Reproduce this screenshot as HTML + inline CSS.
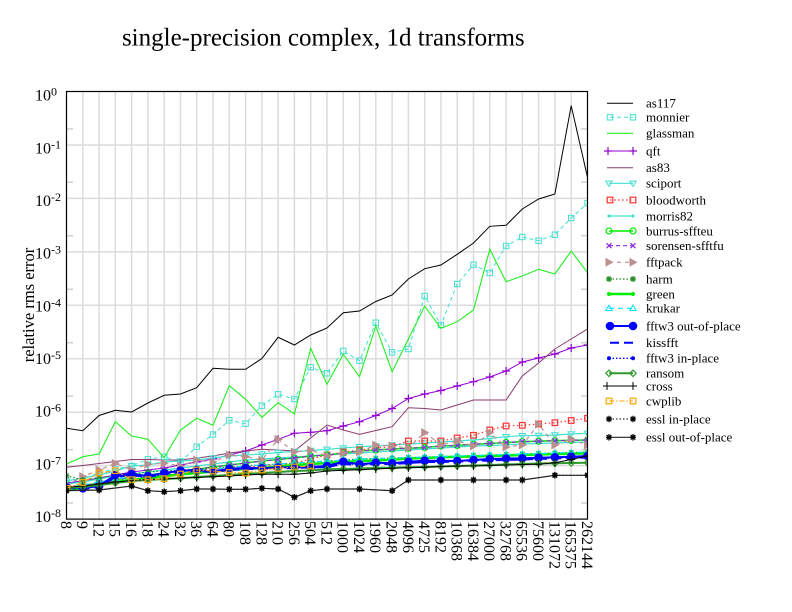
<!DOCTYPE html>
<html>
<head>
<meta charset="utf-8">
<style>
html,body{margin:0;padding:0;background:#fff;}
svg{display:block;}
text{font-family:"Liberation Serif",serif;fill:#000;}
</style>
</head>
<body>
<svg width="792" height="612" viewBox="0 0 792 612" xmlns="http://www.w3.org/2000/svg">
<defs>
<clipPath id="plot"><rect x="66.5" y="91.5" width="521" height="427.6"/></clipPath>
<marker id="mSqT" markerUnits="userSpaceOnUse" overflow="visible" refX="0" refY="0" markerWidth="1" markerHeight="1"><rect x="-2.7" y="-2.7" width="5.4" height="5.4" fill="none" stroke="#40e0d0" stroke-width="1"/></marker>
<marker id="mPlusV" markerUnits="userSpaceOnUse" overflow="visible" refX="0" refY="0" markerWidth="1" markerHeight="1"><path d="M-4,0H4M0,-4V4" stroke="#9400d3" stroke-width="1.2"/></marker>
<marker id="mTriDT" markerUnits="userSpaceOnUse" overflow="visible" refX="0" refY="0" markerWidth="1" markerHeight="1"><path d="M-3.2,-2.2H3.2L0,3.2Z" fill="none" stroke="#40e0d0" stroke-width="1"/></marker>
<marker id="mSqR" markerUnits="userSpaceOnUse" overflow="visible" refX="0" refY="0" markerWidth="1" markerHeight="1"><rect x="-2.8" y="-2.8" width="5.6" height="5.6" fill="none" stroke="#ff3030" stroke-width="1.2"/></marker>
<marker id="mDotT" markerUnits="userSpaceOnUse" overflow="visible" refX="0" refY="0" markerWidth="1" markerHeight="1"><circle r="1.6" fill="#40e0d0"/></marker>
<marker id="mCircG" markerUnits="userSpaceOnUse" overflow="visible" refX="0" refY="0" markerWidth="1" markerHeight="1"><circle r="3" fill="none" stroke="#00ee00" stroke-width="1.2"/></marker>
<marker id="mXV" markerUnits="userSpaceOnUse" overflow="visible" refX="0" refY="0" markerWidth="1" markerHeight="1"><path d="M-2.5,-2.5L2.5,2.5M-2.5,2.5L2.5,-2.5" stroke="#8a2be2" stroke-width="1.2"/></marker>
<marker id="mTriRB" markerUnits="userSpaceOnUse" overflow="visible" refX="0" refY="0" markerWidth="1" markerHeight="1"><path d="M-3.5,-4.5L4.5,0L-3.5,4.5Z" fill="#bc8f8f"/></marker>
<marker id="mStarFG" markerUnits="userSpaceOnUse" overflow="visible" refX="0" refY="0" markerWidth="1" markerHeight="1"><path d="M-3,0H3M0,-3V3M-2.2,-2.2L2.2,2.2M-2.2,2.2L2.2,-2.2" stroke="#228b22" stroke-width="1.2"/></marker>
<marker id="mDotG" markerUnits="userSpaceOnUse" overflow="visible" refX="0" refY="0" markerWidth="1" markerHeight="1"><circle r="2" fill="#00ee00"/></marker>
<marker id="mTriUC" markerUnits="userSpaceOnUse" overflow="visible" refX="0" refY="0" markerWidth="1" markerHeight="1"><path d="M-3.2,2.2H3.2L0,-3.2Z" fill="none" stroke="#00e5ff" stroke-width="1"/></marker>
<marker id="mCircB" markerUnits="userSpaceOnUse" overflow="visible" refX="0" refY="0" markerWidth="1" markerHeight="1"><circle r="4.3" fill="#0000ff"/></marker>
<marker id="mDotB" markerUnits="userSpaceOnUse" overflow="visible" refX="0" refY="0" markerWidth="1" markerHeight="1"><circle r="2" fill="#0000ff"/></marker>
<marker id="mDiaG" markerUnits="userSpaceOnUse" overflow="visible" refX="0" refY="0" markerWidth="1" markerHeight="1"><path d="M0,-3.2L3.2,0L0,3.2L-3.2,0Z" fill="none" stroke="#2e9a2e" stroke-width="1.2"/></marker>
<marker id="mPlusK" markerUnits="userSpaceOnUse" overflow="visible" refX="0" refY="0" markerWidth="1" markerHeight="1"><path d="M-4,0H4M0,-4V4" stroke="#000" stroke-width="1"/></marker>
<marker id="mSqO" markerUnits="userSpaceOnUse" overflow="visible" refX="0" refY="0" markerWidth="1" markerHeight="1"><rect x="-2.8" y="-2.8" width="5.6" height="5.6" fill="none" stroke="#ffa500" stroke-width="1.2"/></marker>
<marker id="mStarK" markerUnits="userSpaceOnUse" overflow="visible" refX="0" refY="0" markerWidth="1" markerHeight="1"><path d="M-3,0H3M0,-3.2V3.2M-2.3,-2.3L2.3,2.3M-2.3,2.3L2.3,-2.3" stroke="#000" stroke-width="1.3"/></marker>
</defs>

<rect width="792" height="612" fill="#fff"/>

<!-- grid -->
<g stroke="#dcdcdc" stroke-width="1.5">
<path d="M82.8,91.5V519.1M99.1,91.5V519.1M115.3,91.5V519.1M131.6,91.5V519.1M147.9,91.5V519.1M164.2,91.5V519.1M180.5,91.5V519.1M196.7,91.5V519.1M213,91.5V519.1M229.3,91.5V519.1M245.6,91.5V519.1M261.9,91.5V519.1M278.1,91.5V519.1M294.4,91.5V519.1M310.7,91.5V519.1M327,91.5V519.1M343.3,91.5V519.1M359.5,91.5V519.1M375.8,91.5V519.1M392.1,91.5V519.1M408.4,91.5V519.1M424.7,91.5V519.1M440.9,91.5V519.1M457.2,91.5V519.1M473.5,91.5V519.1M489.8,91.5V519.1M506.1,91.5V519.1M522.3,91.5V519.1M538.6,91.5V519.1M554.9,91.5V519.1M571.2,91.5V519.1"/>
<path d="M66.5,144.95H587.5M66.5,198.4H587.5M66.5,251.85H587.5M66.5,305.3H587.5M66.5,358.75H587.5M66.5,412.2H587.5M66.5,465.65H587.5"/>
</g>
<g stroke="#d0d0d0" stroke-width="1.5">
<path d="M66.5,128.9H73M66.5,182.3H73M66.5,235.8H73M66.5,289.2H73M66.5,342.7H73M66.5,396.1H73M66.5,449.6H73M66.5,503H73"/>
<path d="M581,128.9H587.5M581,182.3H587.5M581,235.8H587.5M581,289.2H587.5M581,342.7H587.5M581,396.1H587.5M581,449.6H587.5M581,503H587.5"/>
</g>

<!-- series -->
<g clip-path="url(#plot)" fill="none">
<polyline stroke="#000" stroke-width="1" points="66.5,428.3 82.8,430.7 99.1,415.5 115.3,410.3 131.6,412 147.9,403 164.2,395.3 180.5,394 196.7,387.7 213,368.3 229.3,369.3 245.6,369.3 261.9,358.5 278.1,337.3 294.4,345 310.7,335 327,328 343.3,312.7 359.5,311 375.8,301.5 392.1,295 408.4,279 424.7,268.7 440.9,265 457.2,254.3 473.5,243 489.8,226.3 506.1,225.3 522.3,209 538.6,199 554.9,194 571.2,105.7 587.5,177.3"/>
<polyline stroke="#40e0d0" stroke-width="1" stroke-dasharray="4,3" marker-start="url(#mSqT)" marker-mid="url(#mSqT)" marker-end="url(#mSqT)" points="66.5,484 82.8,479 99.1,473 115.3,469 131.6,466 147.9,459.3 164.2,456.7 180.5,462 196.7,446.7 213,434.5 229.3,420.3 245.6,423.7 261.9,405.7 278.1,394.3 294.4,399 310.7,367.3 327,373.3 343.3,351 359.5,360.7 375.8,322.7 392.1,352.3 408.4,349 424.7,296 440.9,325 457.2,284 473.5,264.7 489.8,273 506.1,246 522.3,237 538.6,240.7 554.9,234.7 571.2,218 587.5,203.3"/>
<polyline stroke="#22ee22" stroke-width="1.1" points="66.5,464 82.8,456.7 99.1,454 115.3,421.7 131.6,436 147.9,439.3 164.2,457.7 180.5,430 196.7,418.3 213,425.3 229.3,385.7 245.6,399.3 261.9,417.3 278.1,402.7 294.4,414 310.7,348.3 327,384.3 343.3,354.3 359.5,376.7 375.8,326 392.1,371.7 408.4,339 424.7,306 440.9,328.3 457.2,321.7 473.5,310 489.8,249.3 506.1,281.7 522.3,276 538.6,269.3 554.9,274 571.2,251 587.5,272.7"/>
<polyline stroke="#9400d3" stroke-width="1" marker-start="url(#mPlusV)" marker-mid="url(#mPlusV)" marker-end="url(#mPlusV)" points="66.5,483 82.8,481 99.1,478 115.3,475 131.6,472 147.9,470 164.2,468 180.5,465 196.7,462 213,459 229.3,455 245.6,451 261.9,445 278.1,439.3 294.4,433.3 310.7,432.3 327,430.7 343.3,426 359.5,421.7 375.8,415.5 392.1,408.5 408.4,398.5 424.7,394 440.9,390.5 457.2,386 473.5,381.7 489.8,377 506.1,371 522.3,362 538.6,358 554.9,354 571.2,348 587.5,345"/>
<polyline stroke="#8b3a6e" stroke-width="1" points="66.5,467.3 82.8,465.5 99.1,463.5 115.3,461.5 131.6,459.5 147.9,459.5 164.2,460 180.5,460 196.7,458 213,456 229.3,453 245.6,451 261.9,449.3 278.1,450 294.4,451 310.7,438 327,425 343.3,430 359.5,434.3 375.8,430.5 392.1,426.7 408.4,407.7 424.7,408.5 440.9,410 457.2,405 473.5,400 489.8,400 506.1,400 522.3,376 538.6,363 554.9,349 571.2,339 587.5,329"/>
<polyline stroke="#40e0d0" stroke-width="1.2" marker-start="url(#mTriDT)" marker-mid="url(#mTriDT)" marker-end="url(#mTriDT)" points="66.5,481 82.8,478 99.1,475 115.3,471 131.6,466 147.9,465 164.2,462 180.5,461 196.7,460 213,458 229.3,456 245.6,455 261.9,454 278.1,452.5 294.4,451.5 310.7,450.5 327,449.3 343.3,448 359.5,446.7 375.8,446 392.1,445 408.4,444 424.7,443 440.9,442 457.2,441 473.5,440 489.8,438.5 506.1,436.7 522.3,435.7 538.6,435.5 554.9,435 571.2,434 587.5,433.3"/>
<polyline stroke="#ff3030" stroke-width="1.2" stroke-dasharray="1.5,2.5" marker-start="url(#mSqR)" marker-mid="url(#mSqR)" marker-end="url(#mSqR)" points="66.5,487 82.8,485 99.1,483 115.3,481 131.6,479 147.9,477 164.2,475 180.5,473 196.7,471 213,469 229.3,468 245.6,467 261.9,466 278.1,464.5 294.4,463.3 310.7,459 327,455 343.3,452 359.5,450 375.8,448 392.1,446.7 408.4,441 424.7,441 440.9,441 457.2,438 473.5,435.3 489.8,430 506.1,426 522.3,425.3 538.6,424 554.9,422.7 571.2,420.5 587.5,418.3"/>
<polyline stroke="#40e0d0" stroke-width="1.2" marker-start="url(#mDotT)" marker-mid="url(#mDotT)" marker-end="url(#mDotT)" points="66.5,484 82.8,482 99.1,479 115.3,476 131.6,474 147.9,472 164.2,470 180.5,468 196.7,466 213,464 229.3,462 245.6,460 261.9,459 278.1,458 294.4,457 310.7,456 327,455 343.3,454 359.5,453 375.8,452 392.1,451 408.4,450 424.7,449 440.9,448 457.2,447 473.5,446 489.8,445.5 506.1,445 522.3,444 538.6,443.5 554.9,443 571.2,442.5 587.5,442"/>
<polyline stroke="#00ee00" stroke-width="1.6" marker-start="url(#mCircG)" marker-mid="url(#mCircG)" marker-end="url(#mCircG)" points="66.5,488 82.8,486 99.1,483 115.3,480 131.6,477 147.9,475 164.2,473 180.5,471 196.7,469.3 213,467 229.3,465 245.6,463 261.9,461 278.1,459.5 294.4,458 310.7,456 327,455 343.3,453 359.5,451 375.8,450 392.1,449 408.4,448.3 424.7,447.5 440.9,446 457.2,445.5 473.5,444.3 489.8,443.5 506.1,442.5 522.3,441.7 538.6,441.2 554.9,440.7 571.2,440.3 587.5,440"/>
<polyline stroke="#8a2be2" stroke-width="1.2" stroke-dasharray="4,3" marker-start="url(#mXV)" marker-mid="url(#mXV)" marker-end="url(#mXV)" points="66.5,488 82.8,486 99.1,483 115.3,480 131.6,477 147.9,475 164.2,473 180.5,471 196.7,469.3 213,467 229.3,465 245.6,463 261.9,461 278.1,459.5 294.4,458 310.7,456 327,455 343.3,453 359.5,451 375.8,450 392.1,449 408.4,448.3 424.7,447.5 440.9,446 457.2,445.5 473.5,444.3 489.8,443.5 506.1,442.5 522.3,441.7 538.6,441.2 554.9,440.7 571.2,440.3 587.5,440"/>
<polyline stroke="#bc8f8f" stroke-width="1.2" stroke-dasharray="4,4" marker-start="url(#mTriRB)" marker-mid="url(#mTriRB)" marker-end="url(#mTriRB)" points="66.5,485 82.8,476.5 99.1,470 115.3,463.3 131.6,470 147.9,464.3 164.2,463.3 180.5,466 196.7,460 213,462 229.3,455 245.6,456.7 261.9,460 278.1,439.3 294.4,452 310.7,450 327,456 343.3,453.3 359.5,452 375.8,445 392.1,446 408.4,448 424.7,432.5 440.9,445 457.2,441 473.5,446 489.8,432.7 506.1,447 522.3,445 538.6,424.2 554.9,445 571.2,439.3 587.5,445"/>
<polyline stroke="#228b22" stroke-width="1.2" stroke-dasharray="1.5,2" marker-start="url(#mStarFG)" marker-mid="url(#mStarFG)" marker-end="url(#mStarFG)" points="66.5,475.7 82.8,480 99.1,478 115.3,475 131.6,474 147.9,472 164.2,471 180.5,470 196.7,469 213,468 229.3,467 245.6,466 261.9,465 278.1,464 294.4,463 310.7,462 327,461 343.3,460 359.5,459 375.8,458.5 392.1,458 408.4,457.5 424.7,457 440.9,456.5 457.2,456 473.5,455.5 489.8,455 506.1,454.5 522.3,454 538.6,453.5 554.9,453 571.2,452.5 587.5,452"/>
<polyline stroke="#00ee00" stroke-width="2.5" marker-start="url(#mDotG)" marker-mid="url(#mDotG)" marker-end="url(#mDotG)" points="66.5,490 82.8,488 99.1,485 115.3,482 131.6,480 147.9,478 164.2,476 180.5,474.5 196.7,473 213,471.5 229.3,470 245.6,469 261.9,468 278.1,466.5 294.4,465 310.7,464 327,463 343.3,462 359.5,461 375.8,460.5 392.1,459.7 408.4,458.5 424.7,458 440.9,457.2 457.2,456.8 473.5,456.5 489.8,456 506.1,455.5 522.3,455 538.6,454.5 554.9,454 571.2,453.7 587.5,453.3"/>
<polyline stroke="#00e5ff" stroke-width="1.1" stroke-dasharray="5,4" marker-start="url(#mTriUC)" marker-mid="url(#mTriUC)" marker-end="url(#mTriUC)" points="66.5,487 82.8,485 99.1,482 115.3,479 131.6,477 147.9,475 164.2,473 180.5,472 196.7,470.5 213,469 229.3,467.5 245.6,466 261.9,465 278.1,464 294.4,463 310.7,462 327,461 343.3,460 359.5,459 375.8,458.5 392.1,458 408.4,457.5 424.7,457 440.9,456.5 457.2,456 473.5,455.5 489.8,455 506.1,454.5 522.3,454 538.6,453.5 554.9,453 571.2,452.5 587.5,452"/>
<polyline stroke="#0000ff" stroke-width="2" marker-start="url(#mCircB)" marker-mid="url(#mCircB)" marker-end="url(#mCircB)" points="66.5,487.3 82.8,488.3 99.1,486 115.3,475 131.6,474 147.9,476 164.2,473 180.5,470.7 196.7,470 213,471.5 229.3,468.7 245.6,468 261.9,468.3 278.1,467.5 294.4,467.3 310.7,467 327,466 343.3,461.7 359.5,464.3 375.8,462.7 392.1,463.3 408.4,461.7 424.7,460.7 440.9,460.7 457.2,461 473.5,460 489.8,459 506.1,458.5 522.3,458.3 538.6,457.7 554.9,457.3 571.2,456.7 587.5,456"/>
<polyline stroke="#0000ff" stroke-width="2" stroke-dasharray="9,5" points="66.5,488 82.8,489 99.1,487 115.3,477 131.6,475 147.9,477 164.2,474 180.5,472 196.7,471 213,472 229.3,470 245.6,469 261.9,469 278.1,468.5 294.4,468 310.7,467.5 327,467 343.3,464 359.5,465 375.8,464 392.1,464 408.4,463 424.7,462 440.9,462 457.2,461.5 473.5,461 489.8,460.5 506.1,460 522.3,459.5 538.6,459 554.9,458.5 571.2,458 587.5,457.5"/>
<polyline stroke="#0000ff" stroke-width="1.3" stroke-dasharray="1.5,2" marker-start="url(#mDotB)" marker-mid="url(#mDotB)" marker-end="url(#mDotB)" points="66.5,487 82.8,488 99.1,486.5 115.3,476 131.6,475 147.9,478 164.2,473.5 180.5,471 196.7,470.5 213,472 229.3,469 245.6,468.5 261.9,468.5 278.1,468 294.4,467.5 310.7,467 327,466.5 343.3,463 359.5,465 375.8,463.5 392.1,463.5 408.4,462.5 424.7,461.5 440.9,461.5 457.2,461 473.5,460.5 489.8,460 506.1,459.5 522.3,459 538.6,458.5 554.9,458 571.2,457.5 587.5,457"/>
<polyline stroke="#2e9a2e" stroke-width="2" marker-start="url(#mDiaG)" marker-mid="url(#mDiaG)" marker-end="url(#mDiaG)" points="66.5,488 82.8,487 99.1,485 115.3,483 131.6,481 147.9,480 164.2,479 180.5,478.3 196.7,477 213,476 229.3,475 245.6,474 261.9,473 278.1,472 294.4,471 310.7,470.5 327,469.3 343.3,469 359.5,468.5 375.8,468 392.1,467.7 408.4,467.3 424.7,467 440.9,466.5 457.2,466 473.5,465.5 489.8,465 506.1,464.5 522.3,464 538.6,463.5 554.9,463.3 571.2,463 587.5,462.7"/>
<polyline stroke="#000" stroke-width="1" marker-start="url(#mPlusK)" marker-mid="url(#mPlusK)" marker-end="url(#mPlusK)" points="66.5,487.3 82.8,486 99.1,484 115.3,482 131.6,480.5 147.9,479.5 164.2,479 180.5,478 196.7,477.5 213,476.7 229.3,476 245.6,475 261.9,474.3 278.1,474.3 294.4,474.3 310.7,473 327,471 343.3,470.3 359.5,469.7 375.8,469 392.1,468.3 408.4,467.8 424.7,467.3 440.9,466.5 457.2,466 473.5,466 489.8,465.5 506.1,465 522.3,464.5 538.6,464.3 554.9,462.7 571.2,459.5 587.5,456"/>
<polyline stroke="#ffa500" stroke-width="1.1" stroke-dasharray="5,2,1.5,2" marker-start="url(#mSqO)" marker-mid="url(#mSqO)" marker-end="url(#mSqO)" points="66.5,488.3 82.8,482.5 99.1,473 115.3,470.7 131.6,479.7 147.9,479.7 164.2,478.7 180.5,474 196.7,470 213,471 229.3,472.5 245.6,473 261.9,470 278.1,468.3 294.4,467 310.7,466"/>
<polyline stroke="#000" stroke-width="1" stroke-dasharray="1.5,2" marker-start="url(#mStarK)" marker-mid="url(#mStarK)" marker-end="url(#mStarK)" points="66.5,490.7 99.1,490 131.6,486 147.9,490.7 164.2,491.7 180.5,490.7 196.7,489 213,489 229.3,489.3 245.6,489.3 261.9,488.3 278.1,489 294.4,497.3 310.7,490.7 327,489 359.5,489 392.1,490.7 408.4,480 440.9,480 473.5,480 506.1,480 522.3,480 554.9,475.3 587.5,475.3"/>
<polyline stroke="#222" stroke-width="1.2" marker-start="url(#mStarK)" marker-mid="url(#mStarK)" marker-end="url(#mStarK)" points="66.5,490.7 99.1,490 131.6,486 147.9,490.7 164.2,491.7 180.5,490.7 196.7,489 213,489 229.3,489.3 245.6,489.3 261.9,488.3 278.1,489 294.4,497.3 310.7,490.7 327,489 359.5,489 392.1,490.7 408.4,480 440.9,480 473.5,480 506.1,480 522.3,480 554.9,475.3 587.5,475.3"/>
</g>

<!-- frame -->
<rect x="66.5" y="91.5" width="521" height="427.6" fill="none" stroke="#000" stroke-width="1.2"/>

<!-- title -->
<text x="323.3" y="45.5" font-size="25" text-anchor="middle">single-precision complex, 1d transforms</text>

<!-- y label -->
<text transform="translate(34,305) rotate(-90)" font-size="16.5" text-anchor="middle">relative rms error</text>

<!-- y tick labels -->
<g font-size="16">
<text x="35" y="100.6">10<tspan font-size="12" dy="-5">0</tspan></text>
<text x="35" y="153.3">10<tspan font-size="12" dy="-5">-1</tspan></text>
<text x="35" y="205.9">10<tspan font-size="12" dy="-5">-2</tspan></text>
<text x="35" y="258.6">10<tspan font-size="12" dy="-5">-3</tspan></text>
<text x="35" y="311.3">10<tspan font-size="12" dy="-5">-4</tspan></text>
<text x="35" y="364">10<tspan font-size="12" dy="-5">-5</tspan></text>
<text x="35" y="416.6">10<tspan font-size="12" dy="-5">-6</tspan></text>
<text x="35" y="469.3">10<tspan font-size="12" dy="-5">-7</tspan></text>
<text x="35" y="522">10<tspan font-size="12" dy="-5">-8</tspan></text>
</g>

<!-- x tick labels -->
<g font-size="16">
<text transform="translate(66.5,521) rotate(90)" dy="0.35em">8</text>
<text transform="translate(82.8,521) rotate(90)" dy="0.35em">9</text>
<text transform="translate(99.1,521) rotate(90)" dy="0.35em">12</text>
<text transform="translate(115.3,521) rotate(90)" dy="0.35em">15</text>
<text transform="translate(131.6,521) rotate(90)" dy="0.35em">16</text>
<text transform="translate(147.9,521) rotate(90)" dy="0.35em">18</text>
<text transform="translate(164.2,521) rotate(90)" dy="0.35em">24</text>
<text transform="translate(180.5,521) rotate(90)" dy="0.35em">32</text>
<text transform="translate(196.7,521) rotate(90)" dy="0.35em">36</text>
<text transform="translate(213,521) rotate(90)" dy="0.35em">64</text>
<text transform="translate(229.3,521) rotate(90)" dy="0.35em">80</text>
<text transform="translate(245.6,521) rotate(90)" dy="0.35em">108</text>
<text transform="translate(261.9,521) rotate(90)" dy="0.35em">128</text>
<text transform="translate(278.1,521) rotate(90)" dy="0.35em">210</text>
<text transform="translate(294.4,521) rotate(90)" dy="0.35em">256</text>
<text transform="translate(310.7,521) rotate(90)" dy="0.35em">504</text>
<text transform="translate(327,521) rotate(90)" dy="0.35em">512</text>
<text transform="translate(343.3,521) rotate(90)" dy="0.35em">1000</text>
<text transform="translate(359.5,521) rotate(90)" dy="0.35em">1024</text>
<text transform="translate(375.8,521) rotate(90)" dy="0.35em">1960</text>
<text transform="translate(392.1,521) rotate(90)" dy="0.35em">2048</text>
<text transform="translate(408.4,521) rotate(90)" dy="0.35em">4096</text>
<text transform="translate(424.7,521) rotate(90)" dy="0.35em">4725</text>
<text transform="translate(440.9,521) rotate(90)" dy="0.35em">8192</text>
<text transform="translate(457.2,521) rotate(90)" dy="0.35em">10368</text>
<text transform="translate(473.5,521) rotate(90)" dy="0.35em">16384</text>
<text transform="translate(489.8,521) rotate(90)" dy="0.35em">27000</text>
<text transform="translate(506.1,521) rotate(90)" dy="0.35em">32768</text>
<text transform="translate(522.3,521) rotate(90)" dy="0.35em">65536</text>
<text transform="translate(538.6,521) rotate(90)" dy="0.35em">75600</text>
<text transform="translate(554.9,521) rotate(90)" dy="0.35em">131072</text>
<text transform="translate(571.2,521) rotate(90)" dy="0.35em">165375</text>
<text transform="translate(587.5,521) rotate(90)" dy="0.35em">262144</text>
</g>

<!-- legend -->
<g fill="none">
<polyline stroke="#000" stroke-width="1" points="607,103.3 633,103.3"/>
<polyline stroke="#40e0d0" stroke-width="1" stroke-dasharray="4,3" marker-start="url(#mSqT)" marker-end="url(#mSqT)" points="610,117.3 633,117.3"/>
<polyline stroke="#22ee22" stroke-width="1.1" points="607,133.3 633,133.3"/>
<polyline stroke="#9400d3" stroke-width="1" marker-start="url(#mPlusV)" marker-end="url(#mPlusV)" points="608,151 633,151"/>
<polyline stroke="#8b3a6e" stroke-width="1" points="607,167.7 633,167.7"/>
<polyline stroke="#40e0d0" stroke-width="1.2" marker-start="url(#mTriDT)" marker-end="url(#mTriDT)" points="609,183.3 633,183.3"/>
<polyline stroke="#ff3030" stroke-width="1.2" stroke-dasharray="1.5,2.5" marker-start="url(#mSqR)" marker-end="url(#mSqR)" points="610,200 633,200"/>
<polyline stroke="#40e0d0" stroke-width="1.2" marker-start="url(#mDotT)" marker-end="url(#mDotT)" points="609,216 633,216"/>
<polyline stroke="#00ee00" stroke-width="1.6" marker-start="url(#mCircG)" marker-end="url(#mCircG)" points="609,231 633,231"/>
<polyline stroke="#8a2be2" stroke-width="1.2" stroke-dasharray="4,3" marker-start="url(#mXV)" marker-end="url(#mXV)" points="609,245.7 633,245.7"/>
<polyline stroke="#bc8f8f" stroke-width="1.2" stroke-dasharray="4,4" marker-start="url(#mTriRB)" marker-end="url(#mTriRB)" points="609,262.3 633,262.3"/>
<polyline stroke="#228b22" stroke-width="1.2" stroke-dasharray="1.5,2" marker-start="url(#mStarFG)" marker-end="url(#mStarFG)" points="609,279 633,279"/>
<polyline stroke="#00ee00" stroke-width="2.5" marker-start="url(#mDotG)" marker-end="url(#mDotG)" points="609,294 633,294"/>
<polyline stroke="#00e5ff" stroke-width="1.1" stroke-dasharray="5,4" marker-start="url(#mTriUC)" marker-end="url(#mTriUC)" points="609,308.3 633,308.3"/>
<polyline stroke="#0000ff" stroke-width="2" marker-start="url(#mCircB)" marker-end="url(#mCircB)" points="610,326 633,326"/>
<polyline stroke="#0000ff" stroke-width="2" stroke-dasharray="9,5" points="610,342.7 633,342.7"/>
<polyline stroke="#0000ff" stroke-width="1.3" stroke-dasharray="1.5,2" marker-start="url(#mDotB)" marker-end="url(#mDotB)" points="609,358.3 633,358.3"/>
<polyline stroke="#2e9a2e" stroke-width="2" marker-start="url(#mDiaG)" marker-end="url(#mDiaG)" points="609,373.3 633,373.3"/>
<polyline stroke="#000" stroke-width="1" marker-start="url(#mPlusK)" marker-end="url(#mPlusK)" points="607,386 633,386"/>
<polyline stroke="#ffa500" stroke-width="1.1" stroke-dasharray="5,2,1.5,2" marker-start="url(#mSqO)" marker-end="url(#mSqO)" points="609,401 633,401"/>
<polyline stroke="#000" stroke-width="1" stroke-dasharray="1.5,2" marker-start="url(#mStarK)" marker-end="url(#mStarK)" points="609,419 633,419"/>
<polyline stroke="#222" stroke-width="1.2" marker-start="url(#mStarK)" marker-end="url(#mStarK)" points="609,437.3 633,437.3"/>
</g>
<g font-size="13">
<text x="646" y="107.6">as117</text>
<text x="646" y="121.6">monnier</text>
<text x="646" y="137.6">glassman</text>
<text x="646" y="155.3">qft</text>
<text x="646" y="172">as83</text>
<text x="646" y="187.6">sciport</text>
<text x="646" y="204.3">bloodworth</text>
<text x="646" y="220.3">morris82</text>
<text x="646" y="235.3">burrus-sffteu</text>
<text x="646" y="250">sorensen-sfftfu</text>
<text x="646" y="266.6">fftpack</text>
<text x="646" y="283.3">harm</text>
<text x="646" y="298.3">green</text>
<text x="646" y="312.6">krukar</text>
<text x="646" y="330.3">fftw3 out-of-place</text>
<text x="646" y="347">kissfft</text>
<text x="646" y="362.6">fftw3 in-place</text>
<text x="646" y="377.6">ransom</text>
<text x="646" y="390.3">cross</text>
<text x="646" y="405.3">cwplib</text>
<text x="646" y="423.3">essl in-place</text>
<text x="646" y="441.6">essl out-of-place</text>
</g>
</svg>
</body>
</html>
